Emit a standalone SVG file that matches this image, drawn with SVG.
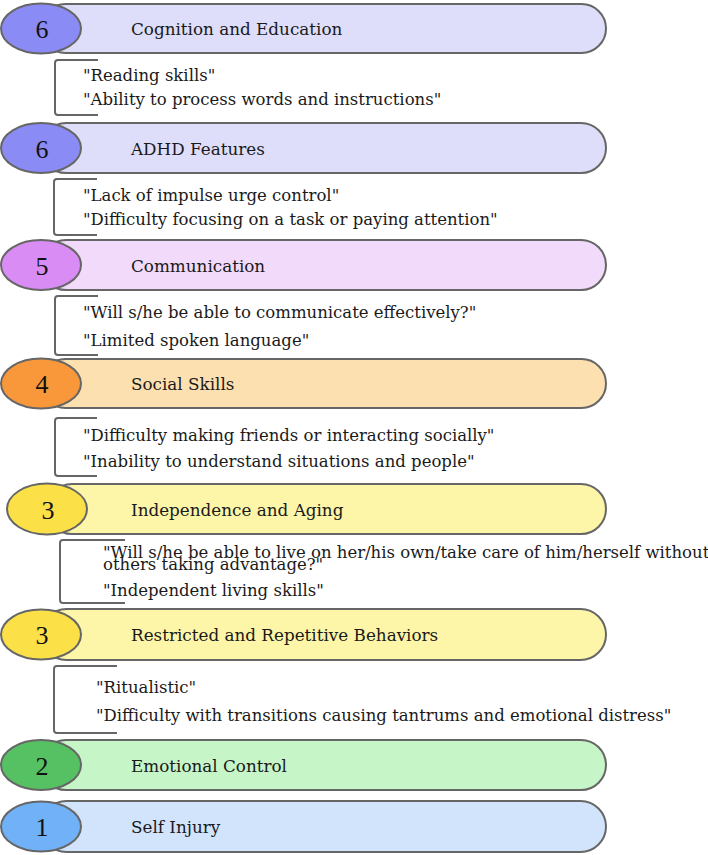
<svg xmlns="http://www.w3.org/2000/svg" width="708" height="855" viewBox="0 0 708 855">
<style>
.bar{stroke:#666;stroke-width:2}
.el{stroke:#666;stroke-width:2}
.br{fill:none;stroke:#666;stroke-width:2}
.lbl{font-family:"DejaVu Serif","Liberation Serif",serif;font-size:16.8px;fill:#1a1a1a}
.num{font-family:"Liberation Serif","DejaVu Serif",serif;font-size:26px;fill:#111;text-anchor:middle}
.q{font-family:"DejaVu Serif","Liberation Serif",serif;font-size:16.5px;fill:#1a1a1a}
.c6b{fill:#dedefb}.c6e{fill:#8b8bf5}
.c5b{fill:#f2dafb}.c5e{fill:#da8cf5}
.c4b{fill:#fde0b0}.c4e{fill:#f8983a}
.c3b{fill:#fdf6a8}.c3e{fill:#fbe047}
.c2b{fill:#c6f5c8}.c2e{fill:#56c162}
.c1b{fill:#d1e4fc}.c1e{fill:#70b1f7}
</style>
<rect width="708" height="855" fill="#fff"/>
<g id="cognition">
<rect class="bar c6b" x="41" y="4" width="565" height="49" rx="24.5"/>
<ellipse class="el c6e" cx="41" cy="28.5" rx="40" ry="25"/>
<text class="num" x="42" y="38">6</text>
<text class="lbl" x="131" y="35">Cognition and Education</text>
</g>
<g id="cognition-notes">
<path class="br" d="M98,60 H58 Q55,60 55,63 V112 Q55,115 58,115 H98"/>
<text class="q" x="83" y="81">"Reading skills"</text>
<text class="q" x="83" y="105">"Ability to process words and instructions"</text>
</g>
<g id="adhd">
<rect class="bar c6b" x="41" y="123" width="565" height="50" rx="25"/>
<ellipse class="el c6e" cx="41" cy="148" rx="40" ry="25"/>
<text class="num" x="42" y="157.5">6</text>
<text class="lbl" x="131" y="155">ADHD Features</text>
</g>
<g id="adhd-notes">
<path class="br" d="M97,179 H57 Q54,179 54,182 V232 Q54,235 57,235 H97"/>
<text class="q" x="83" y="201">"Lack of impulse urge control"</text>
<text class="q" x="83" y="225">"Difficulty focusing on a task or paying attention"</text>
</g>
<g id="communication">
<rect class="bar c5b" x="41" y="240" width="565" height="50" rx="25"/>
<ellipse class="el c5e" cx="41" cy="265" rx="40" ry="25"/>
<text class="num" x="42" y="274.5">5</text>
<text class="lbl" x="131" y="272">Communication</text>
</g>
<g id="communication-notes">
<path class="br" d="M98,296 H58 Q55,296 55,299 V352 Q55,355 58,355 H98"/>
<text class="q" x="83" y="318">"Will s/he be able to communicate effectively?"</text>
<text class="q" x="83" y="346">"Limited spoken language"</text>
</g>
<g id="social">
<rect class="bar c4b" x="41" y="359" width="565" height="49" rx="24.5"/>
<ellipse class="el c4e" cx="41" cy="383.5" rx="40" ry="25"/>
<text class="num" x="42" y="393">4</text>
<text class="lbl" x="131" y="390">Social Skills</text>
</g>
<g id="social-notes">
<path class="br" d="M97,418 H58 Q55,418 55,421 V473 Q55,476 58,476 H97"/>
<text class="q" x="83" y="441">"Difficulty making friends or interacting socially"</text>
<text class="q" x="83" y="467">"Inability to understand situations and people"</text>
</g>
<g id="independence">
<rect class="bar c3b" x="47" y="484" width="559" height="50" rx="25"/>
<ellipse class="el c3e" cx="47" cy="509" rx="40" ry="25.5"/>
<text class="num" x="48" y="518.5">3</text>
<text class="lbl" x="131" y="516">Independence and Aging</text>
</g>
<g id="independence-notes">
<path class="br" d="M125,540 H63 Q60,540 60,543 V600 Q60,603 63,603 H125"/>
<text class="q" x="103" y="558">"Will s/he be able to live on her/his own/take care of him/herself without</text>
<text class="q" x="103" y="570">others taking advantage?"</text>
<text class="q" x="103" y="596">"Independent living skills"</text>
</g>
<g id="restricted">
<rect class="bar c3b" x="41" y="609" width="565" height="51" rx="25.5"/>
<ellipse class="el c3e" cx="41" cy="634.5" rx="40" ry="25"/>
<text class="num" x="42" y="644">3</text>
<text class="lbl" x="131" y="641">Restricted and Repetitive Behaviors</text>
</g>
<g id="restricted-notes">
<path class="br" d="M117,666 H57 Q54,666 54,669 V730 Q54,733 57,733 H117"/>
<text class="q" x="96" y="693">"Ritualistic"</text>
<text class="q" x="96" y="721">"Difficulty with transitions causing tantrums and emotional distress"</text>
</g>
<g id="emotional">
<rect class="bar c2b" x="41" y="740" width="565" height="50" rx="25"/>
<ellipse class="el c2e" cx="41" cy="765" rx="40" ry="25"/>
<text class="num" x="42" y="774.5">2</text>
<text class="lbl" x="131" y="772">Emotional Control</text>
</g>
<g id="self-injury">
<rect class="bar c1b" x="41" y="801" width="565" height="51" rx="25.5"/>
<ellipse class="el c1e" cx="41" cy="826.5" rx="40" ry="25"/>
<text class="num" x="42" y="836">1</text>
<text class="lbl" x="131" y="833">Self Injury</text>
</g>
</svg>
